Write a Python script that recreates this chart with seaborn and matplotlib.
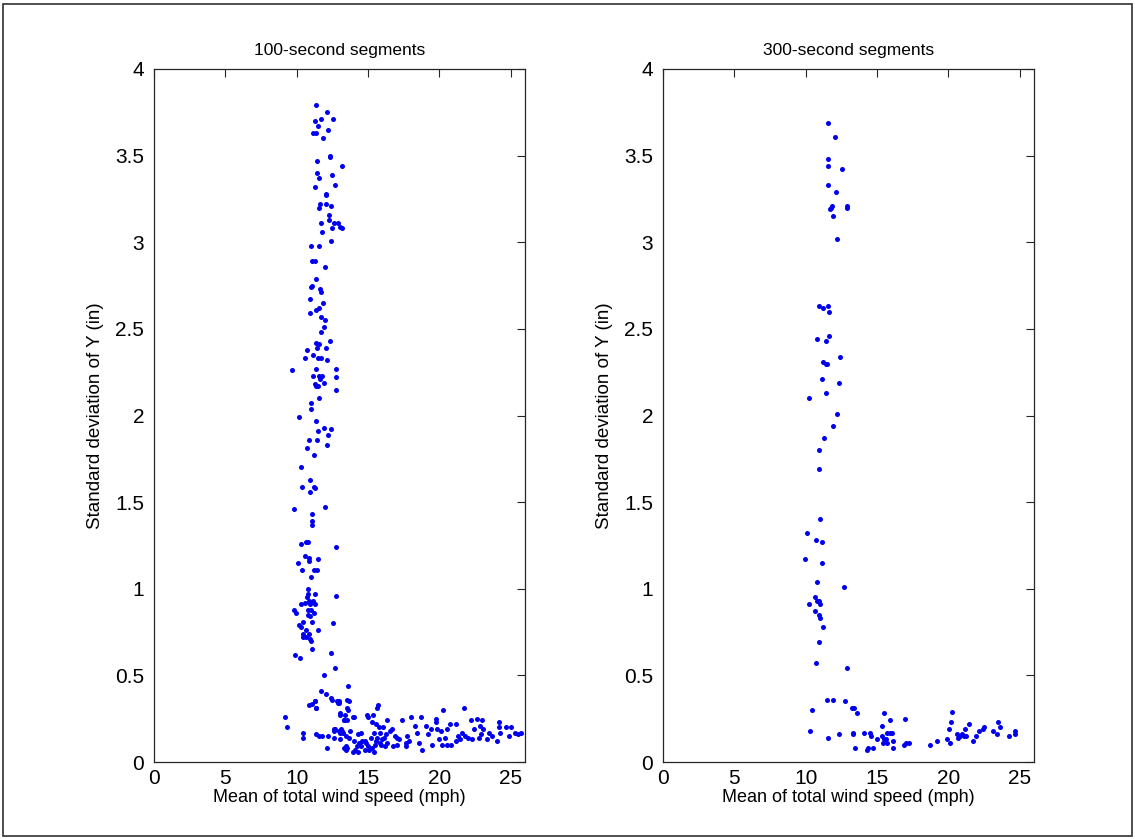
import matplotlib
matplotlib.use("Agg")
import matplotlib.pyplot as plt
import seaborn as sns
import pandas as pd
from matplotlib.patches import Rectangle

# ---------------- data: 100-second segments ----------------
x100 = [11.38, 12.10, 11.71, 11.31, 12.57, 11.47, 12.17, 11.17, 11.33, 11.85,
        12.31, 12.36, 11.45, 13.18, 11.43, 12.50, 11.57, 11.31, 12.69, 12.03,
        12.05, 11.61, 11.57, 12.05, 12.43, 12.29, 12.24, 11.73, 12.64, 12.92,
        13.06, 13.18, 12.48, 11.78, 12.43, 10.98, 11.57, 11.10, 11.31, 11.96,
        11.33, 11.07, 11.03, 11.64, 11.68, 10.91, 11.85, 10.93, 11.38, 11.57,
        11.68, 11.96, 11.89, 11.73, 12.36, 11.33, 11.57, 12.05, 10.75, 11.40,
        11.14, 10.56, 11.52, 11.68, 12.10, 12.76, 9.70, 11.38, 11.54, 11.14,
        11.78, 12.76, 11.61, 11.92, 11.26, 11.33, 11.47, 12.76, 11.57, 10.98,
        10.98, 10.16, 11.38, 11.94, 12.43, 11.47, 12.22, 10.84, 11.43, 12.12,
        10.72, 11.24, 10.30, 10.37, 10.91, 11.24, 11.31, 10.91, 9.79, 11.96,
        11.05, 11.10, 11.05, 10.63, 10.77, 10.30, 12.76, 10.56, 10.84, 11.50,
        10.07, 10.86, 11.24, 11.40, 10.35, 10.98, 10.77, 10.82, 11.26, 12.76,
        10.70, 10.86, 10.61, 11.17, 11.31, 10.93, 10.33, 10.79, 9.81, 11.03,
        9.95, 11.24, 10.79, 10.96, 10.44, 11.05, 12.57, 10.16, 10.30, 11.52,
        10.63, 10.42, 10.86, 10.47, 10.63, 10.93, 11.03, 11.10, 12.43, 9.88,
        10.23, 12.71, 11.94, 13.62, 11.71, 12.05, 12.38, 12.50, 13.53, 13.64,
        10.86, 11.28, 12.87, 12.97, 11.36, 13.55, 13.06, 13.36, 14.98, 14.02,
        15.70, 15.63, 9.21, 9.32, 10.42, 10.47, 11.36, 11.54, 11.75, 12.20,
        12.62, 12.64, 12.15, 13.32, 13.11, 13.27, 13.46, 13.53, 13.46,
        11.28, 11.10, 11.33, 12.85, 12.99, 13.03, 13.30, 13.50, 13.62, 12.70,
        12.99, 13.17, 13.43,
        15.35, 14.93, 13.94, 16.34, 17.40, 18.01, 18.72, 19.73, 19.73, 20.22,
        21.73, 18.29, 19.07, 19.38, 19.84, 20.13, 20.76, 21.14, 20.53, 22.22,
        22.62, 23.00, 22.88, 23.07, 22.46, 23.49, 24.15, 24.15, 24.25, 24.67,
        25.02, 24.88, 25.28, 25.49, 25.75, 24.01, 23.31, 22.76, 22.29, 21.82,
        21.47, 21.14, 20.81, 20.53, 20.18, 19.99, 19.49, 18.79, 18.60, 17.66,
        17.66, 17.73, 17.16, 17.05, 16.74, 16.67, 16.25, 16.06, 15.75, 15.28,
        15.59, 15.85, 15.40, 15.19, 15.64, 16.01, 16.34, 15.82, 15.47, 15.00,
        14.76, 14.53, 14.29, 13.71, 13.24, 13.00, 12.58, 13.05, 13.66, 13.99,
        14.36, 14.53, 13.35, 13.47, 13.94, 14.32, 15.40, 14.81, 14.88, 14.22,
        16.18, 17.00, 16.53, 15.55, 15.90, 16.10, 15.30, 14.60, 14.10, 21.30,
        21.60, 22.00, 22.95, 23.70, 20.40, 19.20, 18.40, 17.90, 16.90, 15.10]
y100 = [3.79, 3.75, 3.71, 3.70, 3.71, 3.67, 3.65, 3.63, 3.63, 3.60,
        3.50, 3.49, 3.47, 3.44, 3.40, 3.39, 3.37, 3.32, 3.33, 3.28,
        3.27, 3.22, 3.20, 3.22, 3.21, 3.16, 3.13, 3.11, 3.11, 3.11,
        3.09, 3.08, 3.08, 3.06, 3.01, 2.98, 2.98, 2.89, 2.89, 2.86,
        2.79, 2.75, 2.74, 2.73, 2.71, 2.67, 2.65, 2.59, 2.61, 2.62,
        2.57, 2.55, 2.51, 2.48, 2.43, 2.42, 2.41, 2.39, 2.38, 2.39,
        2.35, 2.33, 2.33, 2.33, 2.32, 2.27, 2.26, 2.27, 2.23, 2.23,
        2.23, 2.22, 2.21, 2.19, 2.18, 2.17, 2.17, 2.15, 2.10, 2.07,
        2.04, 1.99, 1.97, 1.93, 1.92, 1.91, 1.89, 1.86, 1.86, 1.83,
        1.81, 1.77, 1.70, 1.59, 1.63, 1.59, 1.58, 1.56, 1.46, 1.47,
        1.43, 1.39, 1.37, 1.27, 1.27, 1.26, 1.24, 1.19, 1.18, 1.17,
        1.15, 1.16, 1.11, 1.11, 1.11, 1.07, 1.00, 0.97, 0.97, 0.96,
        0.95, 0.93, 0.92, 0.93, 0.91, 0.91, 0.91, 0.88, 0.88, 0.88,
        0.86, 0.86, 0.85, 0.84, 0.81, 0.81, 0.80, 0.79, 0.78, 0.76,
        0.76, 0.74, 0.74, 0.72, 0.72, 0.71, 0.70, 0.65, 0.63, 0.62,
        0.60, 0.54, 0.50, 0.44, 0.41, 0.39, 0.37, 0.36, 0.36, 0.35,
        0.33, 0.35, 0.34, 0.35, 0.31, 0.31, 0.27, 0.27, 0.26, 0.26,
        0.33, 0.31, 0.26, 0.20, 0.17, 0.14, 0.16, 0.15, 0.15, 0.15,
        0.18, 0.14, 0.08, 0.24, 0.19, 0.17, 0.15, 0.08, 0.07,
        0.35, 0.335, 0.31, 0.354, 0.342, 0.28, 0.24, 0.24, 0.30, 0.19,
        0.18, 0.18, 0.08,
        0.27, 0.27, 0.26, 0.24, 0.24, 0.26, 0.26, 0.25, 0.23, 0.30,
        0.31, 0.21, 0.21, 0.19, 0.19, 0.18, 0.22, 0.22, 0.19, 0.24,
        0.25, 0.24, 0.21, 0.19, 0.19, 0.17, 0.23, 0.20, 0.17, 0.20,
        0.20, 0.15, 0.17, 0.16, 0.17, 0.12, 0.13, 0.14, 0.13, 0.15,
        0.13, 0.12, 0.10, 0.10, 0.10, 0.13, 0.10, 0.07, 0.11, 0.09,
        0.11, 0.15, 0.13, 0.10, 0.09, 0.19, 0.16, 0.20, 0.20, 0.23,
        0.22, 0.17, 0.17, 0.14, 0.14, 0.13, 0.11, 0.11, 0.10, 0.09,
        0.12, 0.17, 0.16, 0.18, 0.17, 0.17, 0.19, 0.13, 0.14, 0.12,
        0.11, 0.09, 0.08, 0.09, 0.06, 0.06, 0.06, 0.07, 0.11, 0.09,
        0.09, 0.14, 0.18, 0.12, 0.10, 0.14, 0.08, 0.12, 0.07, 0.15,
        0.17, 0.14, 0.16, 0.15, 0.14, 0.16, 0.17, 0.12, 0.15, 0.07]

# ---------------- data: 300-second segments ----------------
x300 = [11.54, 12.03, 11.56, 11.56, 12.57, 11.56, 12.10, 11.82, 11.75, 11.70,
        12.92, 12.88, 11.89, 12.22, 10.91, 11.19, 11.56, 11.63, 10.76, 11.63,
        11.42, 12.43, 11.19, 11.45, 11.52, 11.16, 12.36, 11.42, 10.23, 12.17,
        11.89, 11.30, 10.91, 10.91, 11.02, 10.08, 10.74, 11.16, 9.97, 11.16,
        10.76, 12.69, 10.67, 10.81, 10.93, 10.23, 10.98, 10.62, 10.95, 10.98,
        11.21, 10.91, 10.69, 12.88, 11.52, 11.89, 12.73, 13.25, 13.37, 13.63,
        10.41, 10.27, 11.54, 12.36, 13.34, 13.34, 13.48, 14.12, 14.49, 14.59,
        14.29, 14.38, 14.73, 15.48, 15.36, 15.38, 15.48, 15.60, 15.67, 15.41,
        15.01, 15.88, 15.71, 15.94, 16.06, 16.09, 16.09, 16.96, 16.89, 17.00,
        17.21, 18.71, 19.21, 19.89, 20.01, 20.08, 20.19, 20.26, 20.59, 20.64,
        20.78, 20.94, 21.06, 21.13, 21.25, 21.43, 21.76, 21.93, 22.16, 22.40,
        22.47, 23.10, 23.38, 23.45, 23.59, 24.25, 24.65, 24.65]
y300 = [3.69, 3.61, 3.48, 3.44, 3.42, 3.33, 3.29, 3.21, 3.20, 3.19,
        3.21, 3.20, 3.15, 3.02, 2.63, 2.62, 2.63, 2.60, 2.44, 2.46,
        2.43, 2.34, 2.31, 2.30, 2.30, 2.21, 2.19, 2.13, 2.10, 2.01,
        1.94, 1.87, 1.80, 1.69, 1.40, 1.32, 1.28, 1.27, 1.17, 1.15,
        1.04, 1.01, 0.95, 0.93, 0.93, 0.91, 0.91, 0.87, 0.85, 0.83,
        0.78, 0.69, 0.57, 0.54, 0.36, 0.36, 0.35, 0.31, 0.31, 0.28,
        0.30, 0.18, 0.14, 0.16, 0.17, 0.16, 0.08, 0.17, 0.17, 0.15,
        0.07, 0.08, 0.08, 0.28, 0.21, 0.15, 0.13, 0.13, 0.11, 0.11,
        0.13, 0.24, 0.17, 0.17, 0.17, 0.12, 0.08, 0.25, 0.10, 0.11,
        0.11, 0.10, 0.12, 0.13, 0.19, 0.11, 0.23, 0.29, 0.16, 0.14,
        0.15, 0.16, 0.15, 0.19, 0.15, 0.22, 0.12, 0.15, 0.18, 0.19,
        0.20, 0.18, 0.16, 0.23, 0.20, 0.15, 0.18, 0.16]

titles = ["100-second segments", "300-second segments"]
xlabel = "Mean of total wind speed (mph)"
ylabel = "Standard deviation of Y (in)"
xticks = [0, 5, 10, 15, 20, 25]
yticks = [0, 0.5, 1, 1.5, 2, 2.5, 3, 3.5, 4]
yticklabels = ["0", "0.5", "1", "1.5", "2", "2.5", "3", "3.5", "4"]

sns.set_theme(style="white")
plt.rcParams["font.family"] = ["Liberation Sans", "DejaVu Sans"]

fig = plt.figure(figsize=(11.35, 8.39), dpi=100)
W, H = 1135, 839
boxes = [(154, 69, 371, 693), (663, 69, 371, 693)]
datasets = [(x100, y100), (x300, y300)]
axes_col = "#262626"

for (l, t, w, h), (xs, ys), title in zip(boxes, datasets, titles):
    ax = fig.add_axes([l / W, 1 - (t + h) / H, w / W, h / H])
    df = pd.DataFrame({"x": xs, "y": ys})
    sns.scatterplot(data=df, x="x", y="y", ax=ax, color="#0000EE",
                    marker="o", s=13, linewidth=0)
    ax.set_xlim(0, 26)
    ax.set_ylim(0, 4)
    ax.set_xticks(xticks)
    ax.set_yticks(yticks)
    ax.set_yticklabels(yticklabels)
    ax.tick_params(direction="in", top=True, right=True, length=6, width=0.8,
                   color=axes_col, labelcolor="black", labelsize=15)
    ax.tick_params(axis="y", pad=7)
    ax.tick_params(axis="x", pad=5)
    for sp in ax.spines.values():
        sp.set_color(axes_col)
        sp.set_linewidth(0.9)
    ax.set_title(title, fontsize=12.5, color="black", pad=10)
    ax.set_xlabel(xlabel, fontsize=13, color="black", labelpad=1)
    ax.set_ylabel(ylabel, fontsize=13.5, color="black", labelpad=8)

fig.patches.append(Rectangle((3 / W, 3 / H), 1 - 6 / W, 1 - 7 / H,
                             transform=fig.transFigure, fill=False,
                             edgecolor="#303030", linewidth=1.2))
fig.savefig("out.png", dpi=100)
